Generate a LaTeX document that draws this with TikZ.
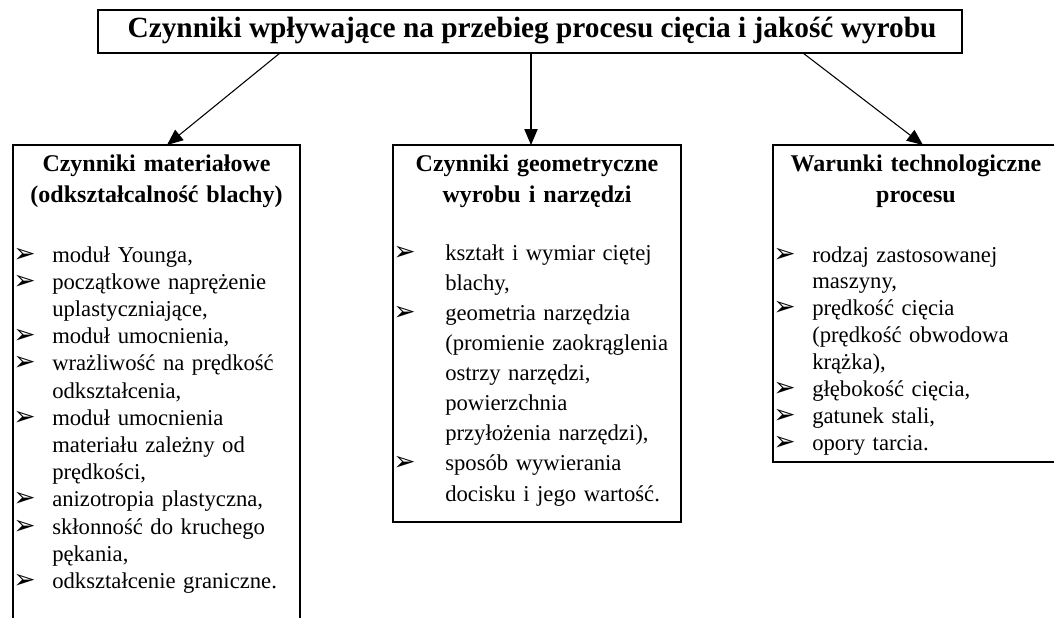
\documentclass[tikz,border=0pt]{standalone}
\usepackage{fontspec}
\setmainfont{Liberation Serif}
\newfontfamily\markFont{DejaVu Sans}
\usetikzlibrary{arrows.meta}
\definecolor{ink}{HTML}{000000}
\tikzset{
  frameLine/.style={draw=ink, line width=1.5pt},
  flowArrow/.style={draw=ink, line width=0.8pt, -{Triangle[length=12pt,width=10pt]}},
  titleText/.style={text=ink, font=\bfseries\fontsize{22}{26}\selectfont, inner sep=0pt},
  headText/.style={text=ink, font=\bfseries\fontsize{18}{23.25}\selectfont, text width=215pt, align=center, anchor=base, inner sep=0pt},
  listText/.style={text=ink, text width=225pt, anchor=base west, inner sep=0pt}
}
\newcommand{\listMark}[1]{\noindent\hangindent=#1\hangafter=1\makebox[#1][l]{\raisebox{0pt}[0pt][0pt]{\markFont\fontsize{20}{20}\selectfont ➢}}}

\begin{document}
\begin{tikzpicture}[x=0.75pt,y=-0.75pt]
  \useasboundingbox (0,0) rectangle (1054,618);

  % main box
  \draw[frameLine] (98,10) rectangle (962,53);
  \node[titleText] (title) at (532,31) {Czynniki wpływające na przebieg procesu cięcia i jakość wyrobu};

  % three groups
  \draw[frameLine] (13,640) -- (13,145) -- (300,145) -- (300,640);
  \draw[frameLine] (393,145) rectangle (681,522);
  \draw[frameLine] (773,145) rectangle (1070,462);

  \coordinate (outMat) at (280,53);
  \coordinate (outGeo) at (531,53);
  \coordinate (outTech) at (803,53);
  \coordinate (inMat) at (167,145);
  \coordinate (inGeo) at (531,145);
  \coordinate (inTech) at (923,145);

  \draw[flowArrow] (outMat) -- (inMat);
  \draw[flowArrow] (outGeo) -- (inGeo);
  \draw[flowArrow] (outTech) -- (inTech);

  \node[headText] (matHead) at (156.5,171) {Czynniki materiałowe\\(odkształcalność blachy)};
  \node[headText] (geoHead) at (537,171) {Czynniki geometryczne\\wyrobu i narzędzi};
  \node[headText] (techHead) at (916,171) {Warunki technologiczne\\procesu};

  \node[listText, font=\fontsize{17}{20.4}\selectfont] (matList) at (13,262) {%
    \listMark{29.25pt}moduł Younga,\par
    \listMark{29.25pt}początkowe naprężenie\newline uplastyczniające,\par
    \listMark{29.25pt}moduł umocnienia,\par
    \listMark{29.25pt}wrażliwość na prędkość\newline odkształcenia,\par
    \listMark{29.25pt}moduł umocnienia\newline materiału zależny od\newline prędkości,\par
    \listMark{29.25pt}anizotropia plastyczna,\par
    \listMark{29.25pt}skłonność do kruchego\newline pękania,\par
    \listMark{29.25pt}odkształcenie graniczne.\par};

  \node[listText, font=\fontsize{17}{22.6}\selectfont] (geoList) at (393,260) {%
    \listMark{39pt}kształt i wymiar ciętej\newline blachy,\par
    \listMark{39pt}geometria narzędzia\newline (promienie zaokrąglenia\newline ostrzy narzędzi,\newline powierzchnia\newline przyłożenia narzędzi),\par
    \listMark{39pt}sposób wywierania\newline docisku i jego wartość.\par};

  \node[listText, font=\fontsize{17}{20.2}\selectfont] (techList) at (773,262) {%
    \listMark{29.25pt}rodzaj zastosowanej\newline maszyny,\par
    \listMark{29.25pt}prędkość cięcia\newline (prędkość obwodowa\newline krążka),\par
    \listMark{29.25pt}głębokość cięcia,\par
    \listMark{29.25pt}gatunek stali,\par
    \listMark{29.25pt}opory tarcia.\par};
\end{tikzpicture}
\end{document}
